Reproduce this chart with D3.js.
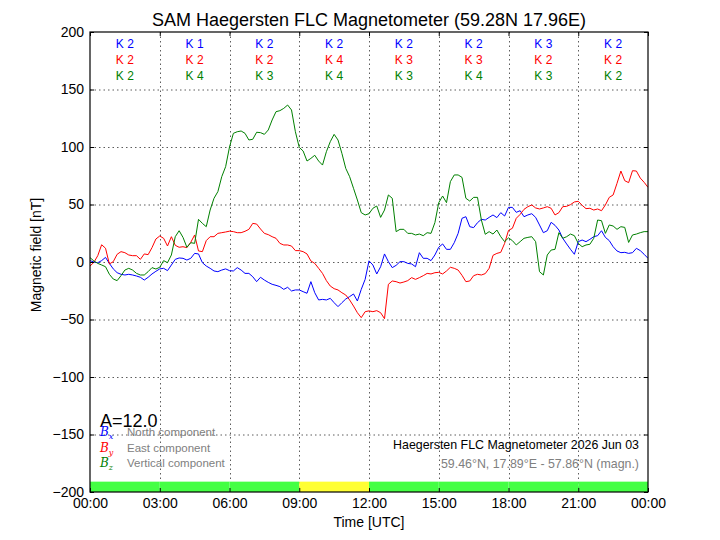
<!DOCTYPE html>
<html lang="en">
  <head>
    <meta charset="UTF-8">
    <title>SAM Haegersten FLC Magnetometer</title>
    <style>
      body { margin: 0; background: #fff; }
      text { font-family: "Liberation Sans", Arial, Helvetica, sans-serif; }
    </style>
  </head>
  <body>
    <div id="chart"></div>
    <script src="https://d3js.org/d3.v7.min.js"></script>
    <script>
      // samples every 10 minutes, 00:00 -> 24:00 UTC
      let stepMinutes = 10;

      let bx = [1.2,0,-0.6,1.2,4,-1.2,-6,-9.3,-10.7,-11.3,
        -10.7,-11.3,-12.2,-13.3,-15.7,-13.3,-10.4,-8.1,-6,-5.5,
        -7.5,-2.6,2.3,3.5,3.2,1.7,3.2,7.5,7,-0.6,
        -3.5,-5.5,-7.8,-8.4,-7,-6,-7.5,-7.8,-4.9,-7,
        -9.9,-9.9,-12.8,-17.1,-13.3,-15.7,-17.7,-19.4,-20.3,-21.4,
        -23.8,-22,-25.2,-24.3,-24.3,-25.8,-27.2,-17.1,-26.7,-33,
        -32.5,-33,-31.6,-35.4,-38.8,-35.4,-32.2,-30.1,-27.8,-33.9,
        -23.8,-15.1,1,-2.6,-10.4,-4.1,7,0.3,-4.9,-2.9,
        0.3,0.3,-1.2,-1.7,-4.1,8.1,3.2,3.2,1.2,6.1,
        12.8,15.7,11,11,16.8,24.9,38,39.4,30.7,29.9,
        34.2,37.1,36.5,38.8,40.9,38.6,42.9,40,47.5,47.5,
        43.2,44.6,39.4,40.9,42,38.8,32.2,25.5,27.2,34.5,
        31.9,27.8,20.6,15.7,11,6.7,17.7,19.1,17.7,19.7,
        22,22.9,27.2,21.4,18.6,13.3,9.6,8.1,8.4,7.5,
        8.1,11.9,9.9,6.7,3.2];

      let by = [-3.5,-0.3,5.5,15,12,-1.7,0.3,6.7,9,8.1,
        6.1,5.5,5.5,2.3,7,6.4,12.5,20,22.6,20.6,
        13.9,22,14.5,12.8,13.3,12.5,17.1,23.5,9.6,9,
        18.6,22,22,24.9,25.5,26.1,26.8,26.4,25.5,25.5,
        26.7,28.4,33.6,33,28.7,24.9,23.8,22,20.6,16.2,
        14.8,14.8,13.9,9.9,9.9,9,7,0.9,-1.2,-5.5,
        -9.9,-16.2,-20.9,-23.2,-24.3,-26.7,-28.7,-33,-38.3,-44.1,
        -48.4,-43.2,-42.5,-43.2,-42.3,-44.1,-49.3,-19.4,-16.5,-17.1,
        -18.3,-17.4,-16.2,-13.6,-15.1,-13.6,-11.9,-9.9,-10.4,-9.3,
        -9,-10.4,-7.8,-4.6,-5.5,-7,-11.6,-17.1,-16.5,-11.9,
        -10.7,-11.3,-10.1,-5.5,5.8,7.5,8.4,16.2,27.5,29.3,
        38,41.4,45.8,48.1,49.6,47,46.1,47,48.1,46.7,
        40.9,42.9,48.1,48.4,49.9,52.2,52.8,49.3,46.4,46.7,
        45.2,46.1,44.6,49.6,56.2,58.3,68.4,79.1,70.7,69,
        79.4,79.1,73,69.3,64.9];

      let bz = [3.8,0.9,-1.2,-2.6,-4.1,-10.7,-14.8,-16.2,-11.9,-7,
        -5.5,-7,-9.9,-11.3,-11.3,-8.4,-4.9,-6.1,-4.6,1.2,
        -0.6,6.1,22,27.2,21.4,12.8,16.8,16.2,37.1,33.6,
        30.7,45.2,55.4,61.2,74.2,82.9,100,111.9,113.3,113.9,
        111.9,106.1,106.7,112.8,112.5,111,114.8,123.5,130.7,131.6,
        133.6,136.5,132.2,113.3,99.7,96.5,87.8,90.1,92.8,87.8,
        84.3,95.9,104.6,111,106.1,94.5,81.4,74.2,64.1,53.9,
        42.9,40.9,42,46.7,48.7,38.8,45.2,58.3,55.4,26.4,
        28.4,28.4,24.9,24.9,23.5,24.3,22.9,25.5,24.9,34.2,
        51.6,57.4,51.6,69.9,75.7,75.7,73.6,55.4,53,56.2,
        56.2,36.5,24.1,26.4,24.3,27.8,22,17.7,21,18.6,
        14.8,17.7,20.6,21.4,22,17.7,-8.4,-11.3,6.1,10.4,
        11,25.5,20.6,22,24.3,22.9,16.2,13.3,14.8,15.4,
        20.6,36.5,35.9,24.9,32.2,31.3,28.4,30.7,30.1,17,
        23.5,24.3,25.5,26.4,26.4];

      let xTickLabels = ["00:00","03:00","06:00","09:00","12:00","15:00","18:00","21:00","00:00"];
      let yTicks = [-200,-150,-100,-50,0,50,100,150,200];

      // K indices per 3-hour block
      let kBx = [2,1,2,2,2,2,3,2];
      let kBy = [2,2,2,4,3,3,2,2];
      let kBz = [2,4,3,4,3,4,3,2];
      // activity band under the plot, one entry per 3-hour block
      let bandLevel = ["quiet","quiet","quiet","active","quiet","quiet","quiet","quiet"];

      let width = 720;
      let height = 540;
      let pLeft = 90, pRight = 648, pTop = 32, pBottom = 492;

      let blue = "#0000ff", red = "#ff0000", green = "#008000";
      let bandColor = { quiet: "#44ff44", active: "#ffff33" };

      let svg = d3.select("#chart").append("svg")
        .attr("width", width).attr("height", height)
        .style("display", "block");

      let x = d3.scaleLinear().domain([0, 24]).range([pLeft, pRight]);
      let y = d3.scaleLinear().domain([-200, 200]).range([pBottom, pTop]);

      svg.append("clipPath").attr("id", "plot-clip")
        .append("rect")
        .attr("x", pLeft).attr("y", pTop)
        .attr("width", pRight - pLeft).attr("height", pBottom - pTop);

      // grid
      let grid = svg.append("g")
        .attr("stroke", "#333")
        .attr("stroke-width", 0.8)
        .attr("stroke-dasharray", "1.5,3");
      grid.selectAll(".hgrid")
        .data(yTicks.slice(1, -1))
        .enter().append("line")
        .attr("x1", pLeft).attr("x2", pRight)
        .attr("y1", d => y(d) + 0.5).attr("y2", d => y(d) + 0.5);
      grid.selectAll(".vgrid")
        .data(d3.range(3, 24, 3))
        .enter().append("line")
        .attr("y1", pTop).attr("y2", pBottom)
        .attr("x1", d => Math.round(x(d)) + 0.5).attr("x2", d => Math.round(x(d)) + 0.5);

      // activity band
      svg.selectAll(".band")
        .data(bandLevel)
        .enter().append("rect")
        .attr("x", (d, i) => x(i * 3))
        .attr("width", (d, i) => x(i * 3 + 3) - x(i * 3))
        .attr("y", y(-191))
        .attr("height", y(-200) - y(-191))
        .attr("fill", d => bandColor[d]);

      // traces
      let line = d3.line()
        .x((d, i) => x(i * stepMinutes / 60))
        .y(d => y(d));
      let traces = svg.append("g").attr("clip-path", "url(#plot-clip)");
      [[bx, blue], [by, red], [bz, green]].forEach(function(s) {
        traces.append("path")
          .datum(s[0])
          .attr("d", line)
          .attr("fill", "none")
          .attr("stroke", s[1])
          .attr("stroke-width", 1)
          .attr("stroke-linejoin", "round");
      });

      // axes, ticks pointing inward
      let yAxis = svg.append("g")
        .attr("transform", "translate(" + pLeft + ",0)")
        .call(d3.axisLeft(y).tickValues(yTicks).tickSize(-4).tickPadding(6));
      let yAxisR = svg.append("g")
        .attr("transform", "translate(" + pRight + ",0)")
        .call(d3.axisRight(y).tickValues(yTicks).tickSize(-4).tickFormat(""));
      let xAxis = svg.append("g")
        .attr("transform", "translate(0," + pBottom + ")")
        .call(d3.axisBottom(x).tickValues(d3.range(0, 25, 3)).tickSize(-4).tickPadding(6)
          .tickFormat((d, i) => xTickLabels[i]));
      let xAxisT = svg.append("g")
        .attr("transform", "translate(0," + pTop + ")")
        .call(d3.axisTop(x).tickValues(d3.range(0, 25, 3)).tickSize(-4).tickFormat(""));
      [yAxis, yAxisR, xAxis, xAxisT].forEach(function(a) {
        a.select(".domain").remove();
        a.selectAll("line").attr("stroke", "#000");
        a.selectAll("text")
          .attr("fill", "#000")
          .style("font-size", "14px")
          .style("font-family", "'Liberation Sans', Arial, sans-serif");
      });

      svg.append("rect")
        .attr("x", pLeft).attr("y", pTop)
        .attr("width", pRight - pLeft).attr("height", pBottom - pTop)
        .attr("fill", "none").attr("stroke", "#000").attr("stroke-width", 1.2);

      // titles
      svg.append("text")
        .attr("x", (pLeft + pRight) / 2).attr("y", 26)
        .attr("text-anchor", "middle")
        .style("font-size", "18px")
        .text("SAM Haegersten FLC Magnetometer (59.28N 17.96E)");
      svg.append("text")
        .attr("x", (pLeft + pRight) / 2).attr("y", 527)
        .attr("text-anchor", "middle")
        .style("font-size", "14px")
        .text("Time [UTC]");
      svg.append("text")
        .attr("transform", "translate(41,255) rotate(-90)")
        .attr("text-anchor", "middle")
        .style("font-size", "14px")
        .text("Magnetic field [nT]");

      // K index rows
      [[kBx, blue, 48], [kBy, red, 64], [kBz, green, 80]].forEach(function(r) {
        svg.selectAll(null)
          .data(r[0])
          .enter().append("text")
          .attr("x", (d, i) => x(i * 3 + 1.5))
          .attr("y", r[2])
          .attr("text-anchor", "middle")
          .attr("fill", r[1])
          .style("font-size", "12px")
          .text(d => "K " + d);
      });

      // A index
      svg.append("text")
        .attr("x", 100).attr("y", 427)
        .style("font-size", "18px")
        .text("A=12.0");

      // legend
      let legend = [
        { sub: "x", color: blue, label: "North component", yPos: 436 },
        { sub: "y", color: red, label: "East component", yPos: 452 },
        { sub: "z", color: green, label: "Vertical component", yPos: 467 }
      ];
      legend.forEach(function(l) {
        let t = svg.append("text").attr("x", 100).attr("y", l.yPos).style("font-size", "12px");
        t.append("tspan")
          .attr("fill", l.color)
          .style("font-family", "'DejaVu Serif', 'Liberation Serif', serif")
          .style("font-style", "italic")
          .text("B");
        t.append("tspan")
          .attr("fill", l.color)
          .attr("dy", 3)
          .style("font-family", "'DejaVu Serif', 'Liberation Serif', serif")
          .style("font-style", "italic")
          .style("font-size", "8px")
          .text(l.sub);
        t.append("tspan")
          .attr("x", 127)
          .attr("y", l.yPos)
          .attr("fill", "#808080")
          .style("font-size", "11.5px")
          .text(l.label);
      });

      // station info
      svg.append("text")
        .attr("x", 639).attr("y", 449)
        .attr("text-anchor", "end")
        .style("font-size", "12.4px")
        .text("Haegersten FLC Magnetometer 2026 Jun 03");
      svg.append("text")
        .attr("x", 639).attr("y", 468)
        .attr("text-anchor", "end")
        .attr("fill", "#808080")
        .style("font-size", "12.4px")
        .text("59.46°N, 17.89°E - 57.86°N (magn.)");
    </script>
  </body>
</html>
